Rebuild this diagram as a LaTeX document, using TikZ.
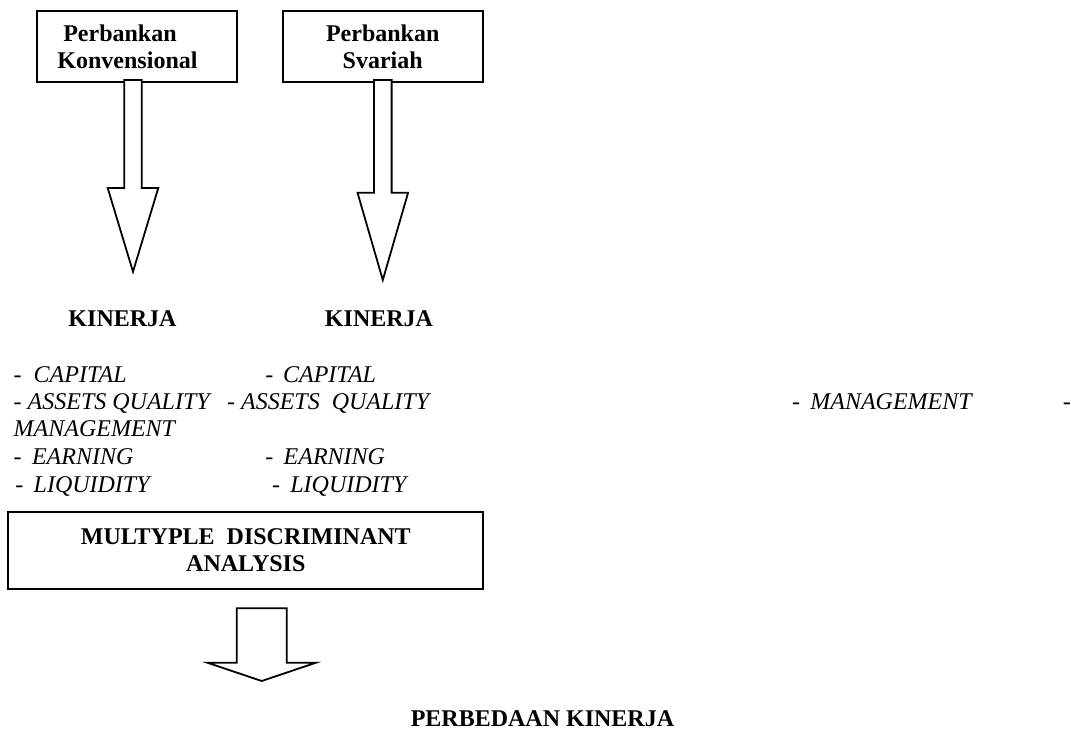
\documentclass[tikz,border=0pt,12pt]{standalone}
\usepackage{fontspec}
\setmainfont{Liberation Serif}
\usetikzlibrary{calc}

\begin{document}
\begin{tikzpicture}[x=0.5pt,y=-0.5pt,line join=miter,
    bank/.style={draw,line width=1pt,fill=white,minimum width=100pt,minimum height=35.75pt,
      align=center,inner sep=0pt,font=\fontsize{12}{13.35}\selectfont\bfseries},
    lst/.style={anchor=base west,inner sep=0pt,font=\fontsize{12}{13.75}\selectfont\itshape},
    head/.style={anchor=base,inner sep=0pt,font=\fontsize{12}{13.75}\selectfont\bfseries},
    barrowline/.style={draw,line width=0.9pt,fill=white}]
  \useasboundingbox (0,0) rectangle (1071,731);
  % block arrow: \barrow{top centre}{half shaft}{shaft length}{half head}{head length}
  \newcommand{\barrow}[5]{\path[barrowline] ($(#1)+(-#2,0)$) -- ++(0,#3) -- ++(-#4+#2,0)
     -- ++(#4,#5) -- ++(#4,-#5) -- ++(-#4+#2,0) -- ++(0,-#3) -- cycle;}
  % dash + word, dash in a box of width #1
  \newcommand{\itm}[2]{\makebox[#1][l]{-}#2}
  % --- the two banks ---
  \node[bank] (kon) at (136.7,46.7) {\hspace*{-16.7pt}Perbankan\\\hspace*{-9.2pt}Konvensional};
  \node[bank] (sya) at (382.7,46.7) {Perbankan\\Svariah};
  \coordinate (t1) at (133,80);
  \coordinate (t2) at (382.8,80);
  \barrow{t1}{8.7}{108}{25.3}{83.7}
  \barrow{t2}{8.8}{112.7}{25.3}{87.3}
  % --- performance ---
  \node[head] (kin1) at (122.5,326.7) {KINERJA};
  \node[head] (kin2) at (379,326.7) {KINERJA};
  % rows of the list
  \node[lst] (cap1) at (13.3,383) {\itm{10pt}{CAPITAL}};
  \node[lst] (cap2) at (265,383) {\itm{8.85pt}{CAPITAL}};
  \node[lst] (ast1) at (13.3,410) {- ASSETS QUALITY};
  \node[lst] (ast2) at (226.7,410) {- ASSETS\ \ QUALITY};
  \node[lst] (man1) at (791.7,410) {\itm{9.15pt}{MANAGEMENT}};
  \node[lst] (dsh1) at (1062.5,410) {-};
  \node[lst] (man2) at (13.3,437) {MANAGEMENT};
  \node[lst] (ear1) at (13.3,465) {\itm{9.2pt}{EARNING}};
  \node[lst] (ear2) at (265,465) {\itm{9.15pt}{EARNING}};
  \node[lst] (liq1) at (15,493) {\itm{9.15pt}{LIQUIDITY}};
  \node[lst] (liq2) at (271.7,493) {\itm{9.15pt}{LIQUIDITY}};
  % --- analysis ---
  \node[bank,minimum width=237.5pt,minimum height=38.8pt] (mda) at (245.8,550.5)
    {MULTYPLE\ \ DISCRIMINANT\\ANALYSIS};
  \coordinate (t3) at (261.7,608.3);
  \barrow{t3}{25}{54.4}{54.3}{18.3}
  \node[head] (beda) at (542.5,726) {PERBEDAAN KINERJA};
\end{tikzpicture}
\end{document}
